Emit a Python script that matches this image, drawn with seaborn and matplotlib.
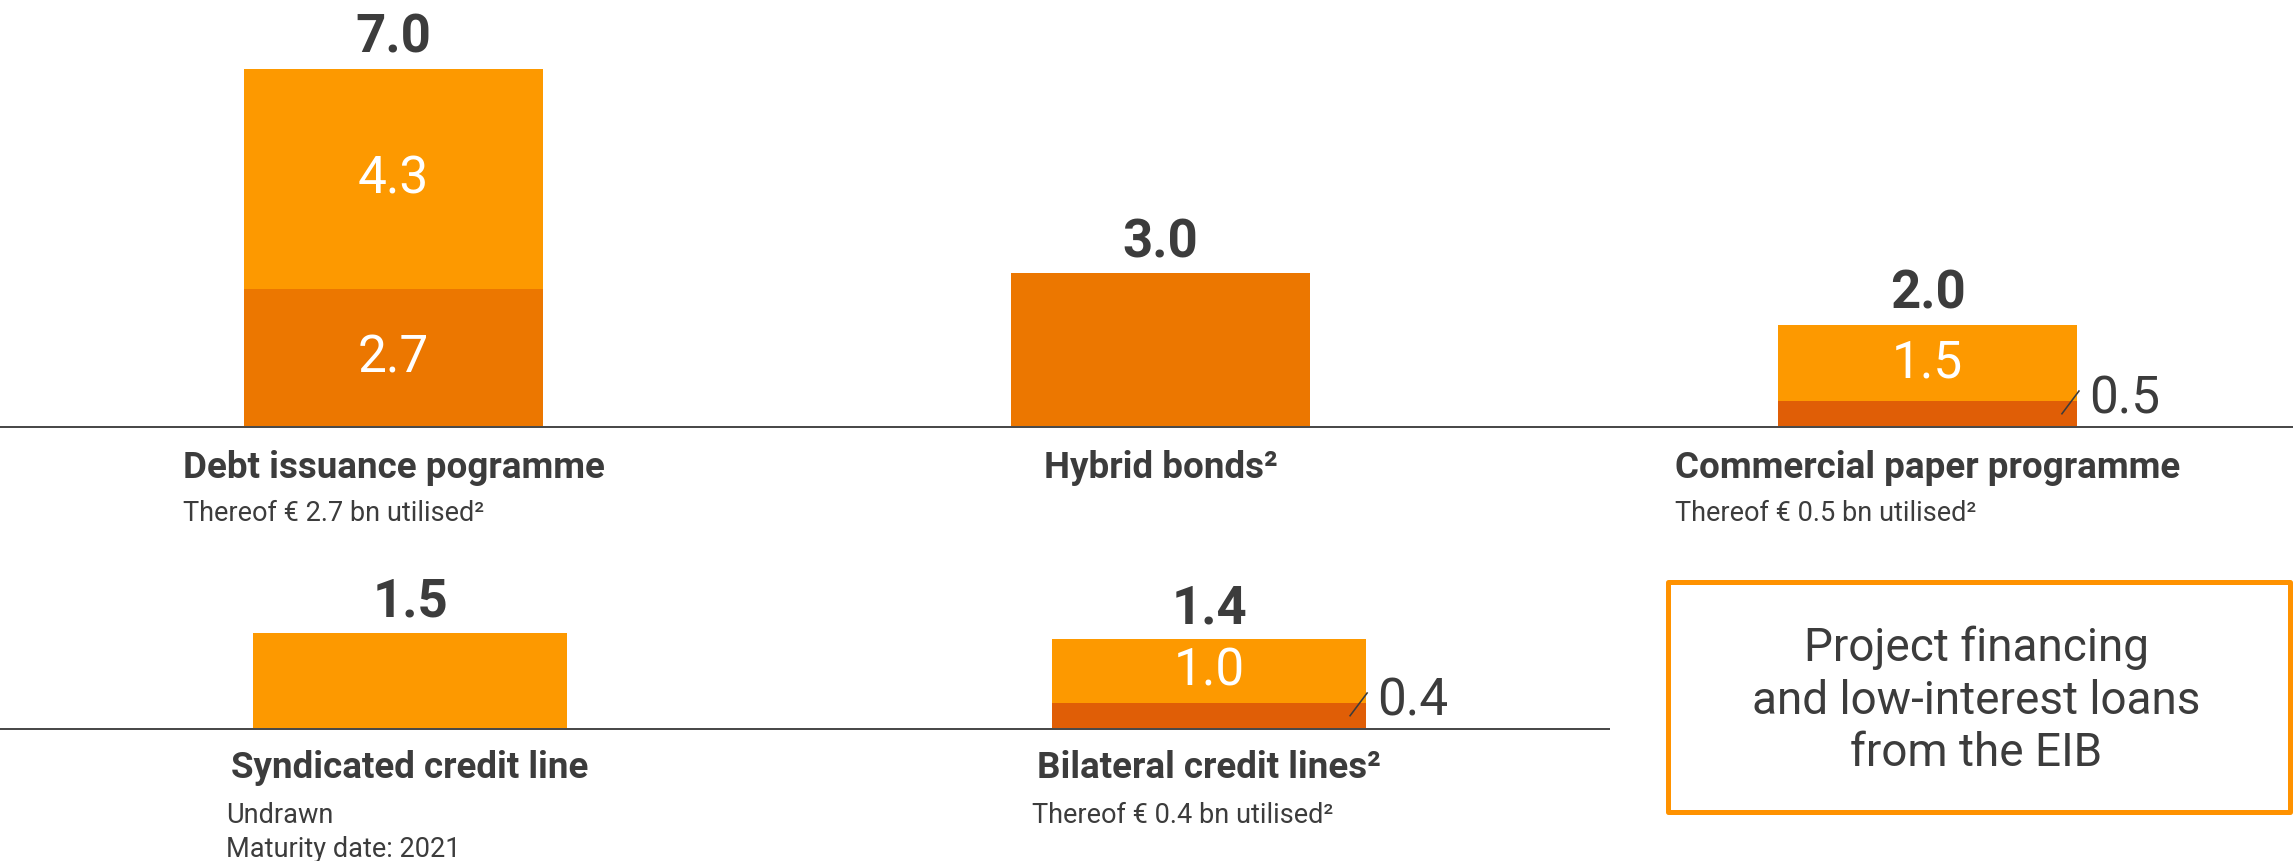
import matplotlib
matplotlib.use("Agg")
import matplotlib.pyplot as plt
import pandas as pd
import seaborn as sns
from matplotlib.patches import Rectangle

# ---- data (EUR bn) -------------------------------------------------------
top_categories = ["Debt issuance pogramme", "Hybrid bonds²", "Commercial paper programme"]
top_totals = [7.0, 3.0, 2.0]
top_utilised = [2.7, 3.0, 0.5]
top_notes = [["Thereof € 2.7 bn utilised²"], [], ["Thereof € 0.5 bn utilised²"]]

bottom_categories = ["Syndicated credit line", "Bilateral credit lines²"]
bottom_totals = [1.5, 1.4]
bottom_utilised = [0.0, 0.4]
bottom_notes = [["Undrawn", "Maturity date: 2021"], ["Thereof € 0.4 bn utilised²"]]

box_lines = ["Project financing", "and low-interest loans", "from the EIB"]

# ---- style ---------------------------------------------------------------
LIGHT = "#FD9900"
MID = "#EC7700"
DARK = "#E05E06"
TEXT = "#3C3C3C"
LINE = "#4A4A4A"
BOX = "#FF9200"

top_util_colors = [MID, MID, DARK]
bottom_util_colors = [DARK, DARK]

sns.set_style("white")
plt.rcParams["font.family"] = ["Roboto", "DejaVu Sans"]

W, H, DPI = 2293, 862, 100
PT = 72 / DPI  # points per pixel
fig = plt.figure(figsize=(W / DPI, H / DPI), dpi=DPI)
fig.patch.set_facecolor("white")


def px_axes(left, top, right, bottom):
    return fig.add_axes([left / W, 1 - bottom / H, (right - left) / W, (bottom - top) / H])


def draw_row(ax, cats, totals, utilised, util_colors, width, x_first, x_step,
             px_per_unit, baseline_px, top_px, line_end=None):
    df = pd.DataFrame({"cat": cats, "total": totals, "used": utilised})
    sns.barplot(data=df, x="cat", y="total", hue="cat", order=cats, hue_order=cats,
                palette=dict(zip(cats, [LIGHT] * len(cats))), width=width,
                saturation=1, linewidth=0, errorbar=None, legend=False, ax=ax)
    sns.barplot(data=df, x="cat", y="used", hue="cat", order=cats, hue_order=cats,
                palette=dict(zip(cats, util_colors)), width=width,
                saturation=1, linewidth=0, errorbar=None, legend=False, ax=ax)
    ax.set_xlim(-x_first / x_step, (W - x_first) / x_step)
    ax.set_ylim(0, (baseline_px - top_px) / px_per_unit)
    ax.set_xticks([])
    ax.set_yticks([])
    ax.set_xlabel("")
    ax.set_ylabel("")
    ax.patch.set_alpha(0)
    for s in ("top", "left", "right"):
        ax.spines[s].set_visible(False)
    ax.spines["bottom"].set_color(LINE)
    ax.spines["bottom"].set_linewidth(2 * PT)
    if line_end is not None:
        ax.spines["bottom"].set_bounds(ax.get_xlim()[0], line_end)


def annotate_row(ax, cats, totals, utilised, label_drop_px):
    n = len(cats)
    bars = ax.patches[:n]
    label_artists = []
    for i, (cat, tot, used) in enumerate(zip(cats, totals, utilised)):
        bar = bars[i]
        right = bar.get_x() + bar.get_width()
        # total on top of the bar
        ax.annotate(f"{tot:.1f}", xy=(i, tot), xytext=(0, 17 * PT), textcoords="offset points",
                    ha="center", va="baseline", fontsize=38, fontweight="bold", color=TEXT)
        if 0 < used < tot:
            undrawn = round(tot - used, 1)
            ax.annotate(f"{undrawn:.1f}", xy=(i, used + undrawn / 2), xytext=(0, -13.5 * PT),
                        textcoords="offset points", ha="center", va="baseline",
                        fontsize=37, fontweight="normal", color="white")
            if used >= 1.0:
                ax.annotate(f"{used:.1f}", xy=(i, used / 2), xytext=(0, -13.5 * PT),
                            textcoords="offset points", ha="center", va="baseline",
                            fontsize=37, fontweight="normal", color="white")
            else:
                # small utilised part: value outside with a short leader
                anchor = ax.transData.transform((right, used))
                inv = ax.transData.inverted()
                p0 = inv.transform((anchor[0] - 16, anchor[1] - 13))
                p1 = inv.transform((anchor[0] + 2, anchor[1] + 11))
                ax.plot([p0[0], p1[0]], [p0[1], p1[1]], color=TEXT, lw=1.6 * PT,
                        solid_capstyle="butt", clip_on=False)
                ax.annotate(f"{used:.1f}", xy=(right, used), xytext=(12 * PT, -11 * PT),
                            textcoords="offset points", ha="left", va="baseline",
                            fontsize=37, fontweight="normal", color=TEXT)
        lab = ax.annotate(cat, xy=(i, 0), xytext=(0, -label_drop_px * PT),
                          textcoords="offset points", ha="center", va="baseline",
                          fontsize=26.5, fontweight="bold", color=TEXT)
        label_artists.append(lab)
    return label_artists


# ---- top row ---------------------------------------------------------------
TOP_BASE = 428
ax_top = px_axes(0, 0, W, TOP_BASE)
draw_row(ax_top, top_categories, top_totals, top_utilised, top_util_colors, 0.391,
         393.5, 767, 51.2, TOP_BASE, 0)

# ---- bottom row ------------------------------------------------------------
BOT_BASE = 730
ax_bot = px_axes(0, 560, W, BOT_BASE)
draw_row(ax_bot, bottom_categories, bottom_totals, bottom_utilised, bottom_util_colors, 0.392,
         410, 799, 64.1, BOT_BASE, 560, line_end=1.5)

fig.canvas.draw()
top_labels = annotate_row(ax_top, top_categories, top_totals, top_utilised, 50)
bot_labels = annotate_row(ax_bot, bottom_categories, bottom_totals, bottom_utilised, 48)

# notes under the labels, left-aligned with each label
fig.canvas.draw()
renderer = fig.canvas.get_renderer()


def place_notes(labels, notes, base_px, shift_px):
    for lab, lines in zip(labels, notes):
        x0 = lab.get_window_extent(renderer).x0 + shift_px
        for k, line in enumerate(lines):
            y = base_px + 93 + 34 * k
            fig.text(x0 / W, 1 - y / H, line, ha="left", va="baseline",
                     fontsize=19.5, color=TEXT)


place_notes(top_labels, top_notes, TOP_BASE, 0)
place_notes(bot_labels, bottom_notes, BOT_BASE, -5)

# ---- EIB box -----------------------------------------------------------------
bx0, by0, bx1, by1 = 1668, 583, 2290, 813
fig.add_artist(Rectangle((bx0 / W, 1 - by1 / H), (bx1 - bx0) / W, (by1 - by0) / H,
                         transform=fig.transFigure, fill=False, edgecolor=BOX,
                         linewidth=5 * PT, joinstyle="round"))
for k, line in enumerate(box_lines):
    yc = 645 + 52.6 * k
    fig.text(1976 / W, 1 - (yc + 16) / H, line, ha="center", va="baseline",
             fontsize=33, color=TEXT)

fig.savefig("out.png", dpi=DPI, facecolor="white")
